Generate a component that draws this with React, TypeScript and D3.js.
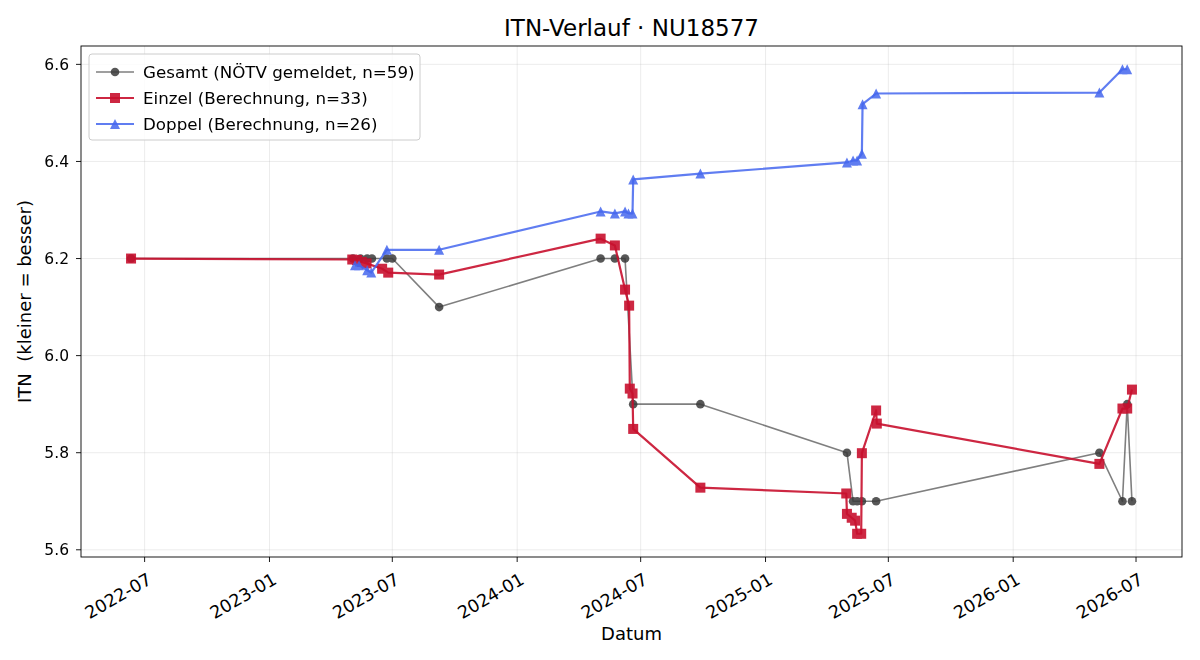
import * as d3 from "d3";

// ITN history per player: reported overall rating plus the computed singles/doubles values
const gesamtDates = [
  "2022-06-11", "2023-05-04", "2023-05-15", "2023-05-25", "2023-06-01", "2023-06-23",
  "2023-07-01", "2023-09-08", "2024-05-03", "2024-05-24", "2024-06-08", "2024-06-20",
  "2024-09-27", "2025-05-01", "2025-05-10", "2025-05-16", "2025-05-23", "2025-06-13",
  "2026-05-08", "2026-06-11", "2026-06-18", "2026-06-25",
];
const gesamtITN = [
  6.2, 6.2, 6.2, 6.2, 6.2, 6.2,
  6.2, 6.1, 6.2, 6.2, 6.2, 5.9,
  5.9, 5.8, 5.7, 5.7, 5.7, 5.7,
  5.8, 5.7, 5.9, 5.7,
];

const einzelDates = [
  "2022-06-11", "2023-05-03", "2023-05-10", "2023-05-17", "2023-05-24", "2023-06-16",
  "2023-06-25", "2023-09-08", "2024-05-03", "2024-05-24", "2024-06-08", "2024-06-14",
  "2024-06-15", "2024-06-19", "2024-06-20", "2024-09-27", "2025-04-30", "2025-05-01",
  "2025-05-08", "2025-05-13", "2025-05-16", "2025-05-22", "2025-05-23", "2025-06-13",
  "2025-06-14", "2026-05-08", "2026-06-11", "2026-06-18", "2026-06-25",
];
const einzelITN = [
  6.2, 6.198, 6.197, 6.193, 6.19, 6.179,
  6.171, 6.167, 6.241, 6.227, 6.136, 6.103,
  5.932, 5.922, 5.849, 5.728, 5.716, 5.674,
  5.666, 5.66, 5.633, 5.633, 5.799, 5.887,
  5.86, 5.777, 5.891, 5.891, 5.93,
];

const doppelDates = [
  "2023-05-07", "2023-05-13", "2023-05-25", "2023-05-31", "2023-06-23", "2023-09-08",
  "2024-05-03", "2024-05-24", "2024-06-08", "2024-06-13", "2024-06-19", "2024-06-20",
  "2024-09-27", "2025-05-01", "2025-05-10", "2025-05-16", "2025-05-23", "2025-05-24",
  "2025-06-13", "2026-05-08", "2026-06-11", "2026-06-18",
];
const doppelITN = [
  6.186, 6.186, 6.176, 6.171, 6.218, 6.218,
  6.297, 6.293, 6.297, 6.293, 6.293, 6.363,
  6.375, 6.398, 6.402, 6.402, 6.416, 6.518,
  6.54, 6.542, 6.59, 6.59,
];

const yTicks = [5.6, 5.8, 6.0, 6.2, 6.4, 6.6];
const xTicks = [
  "2022-07-01", "2023-01-01", "2023-07-01", "2024-01-01", "2024-07-01",
  "2025-01-01", "2025-07-01", "2026-01-01", "2026-07-01",
];

const W = 1200;
const H = 660;
const plot = { left: 81, right: 1182, top: 46, bottom: 557 };
const FONT = "DejaVu Sans, sans-serif";
const YTICK_FS = 15.5;
const XTICK_FS = 17.5;
const LABEL_FS = 18;
const LEGEND_FS = 16.7;
const TITLE_FS = 23;

const parse = d3.utcParse("%Y-%m-%d");
const fmtTick = d3.utcFormat("%Y-%m");

type Pt = { d: Date; v: number };
const zip = (ds: string[], vs: number[]): Pt[] => ds.map((s, i) => ({ d: parse(s)!, v: vs[i] }));

const gesamt = zip(gesamtDates, gesamtITN);
const einzel = zip(einzelDates, einzelITN);
const doppel = zip(doppelDates, doppelITN);
const all = [...gesamt, ...einzel, ...doppel];

// 5% padding like matplotlib's auto margins
const [dMin, dMax] = d3.extent(all, p => +p.d) as [number, number];
const dPad = (dMax - dMin) * 0.05;
const [vMin, vMax] = d3.extent(all, p => p.v) as [number, number];
const vPad = (vMax - vMin) * 0.05;

const x = d3.scaleUtc().domain([new Date(dMin - dPad), new Date(dMax + dPad)]).range([plot.left, plot.right]);
const y = d3.scaleLinear().domain([vMin - vPad, vMax + vPad]).range([plot.bottom, plot.top]);

const line = d3.line<Pt>().x(p => x(p.d)).y(p => y(p.v));

const GRAY = "#3a3a3a";
const RED = "#c8102e";
const BLUE = "#4466ee";

const tri = (s: number) => `M0,${-s} L${s},${s} L${-s},${s} Z`;

function Marker({ kind, color, cx, cy }: { kind: string; color: string; cx: number; cy: number }) {
  if (kind === "o") return <circle cx={cx} cy={cy} r={4.3} fill={color} />;
  if (kind === "s") return <rect x={cx - 5} y={cy - 5} width={10} height={10} fill={color} />;
  return <path d={tri(5)} transform={`translate(${cx},${cy})`} fill={color} />;
}

const series = [
  { data: gesamt, color: GRAY, kind: "o", width: 1.6, lineOp: 0.65, markOp: 0.85, label: "Gesamt (NÖTV gemeldet, n=59)" },
  { data: einzel, color: RED, kind: "s", width: 2.2, lineOp: 0.9, markOp: 0.9, label: "Einzel (Berechnung, n=33)" },
  { data: doppel, color: BLUE, kind: "^", width: 2.2, lineOp: 0.85, markOp: 0.85, label: "Doppel (Berechnung, n=26)" },
];

export default function App() {
  return (
    <svg width={W} height={H} style={{ position: "absolute", left: 0, top: 0, background: "#fff" }} fontFamily={FONT}>
      <rect width={W} height={H} fill="#fff" />

      {/* grid */}
      <g stroke="#b0b0b0" strokeOpacity={0.3} strokeWidth={0.8}>
        {xTicks.map(t => (
          <line key={t} x1={x(parse(t)!)} x2={x(parse(t)!)} y1={plot.top} y2={plot.bottom} />
        ))}
        {yTicks.map(t => (
          <line key={t} x1={plot.left} x2={plot.right} y1={y(t)} y2={y(t)} />
        ))}
      </g>

      {/* series */}
      {series.map(s => (
        <g key={s.label}>
          <path d={line(s.data)!} fill="none" stroke={s.color} strokeOpacity={s.lineOp} strokeWidth={s.width} strokeLinejoin="round" />
          <g opacity={s.markOp}>
            {s.data.map((p, i) => (
              <Marker key={i} kind={s.kind} color={s.color} cx={x(p.d)} cy={y(p.v)} />
            ))}
          </g>
        </g>
      ))}

      {/* frame */}
      <rect x={plot.left} y={plot.top} width={plot.right - plot.left} height={plot.bottom - plot.top} fill="none" stroke="#000" strokeWidth={0.9} />

      {/* y axis */}
      {yTicks.map(t => (
        <g key={t} transform={`translate(${plot.left},${y(t)})`}>
          <line x1={-5} x2={0} stroke="#000" strokeWidth={0.9} />
          <text x={-12} dy="0.35em" textAnchor="end" fontSize={YTICK_FS}>{t.toFixed(1)}</text>
        </g>
      ))}

      {/* x axis, labels tilted like autofmt_xdate */}
      {xTicks.map(t => {
        const px = x(parse(t)!);
        return (
          <g key={t}>
            <line x1={px} x2={px} y1={plot.bottom} y2={plot.bottom + 5} stroke="#000" strokeWidth={0.9} />
            <text transform={`translate(${px + 2},${plot.bottom + 15}) rotate(-30)`} textAnchor="end" dy="0.72em" fontSize={XTICK_FS}>
              {fmtTick(parse(t)!)}
            </text>
          </g>
        );
      })}

      <text x={(plot.left + plot.right) / 2} y={640} textAnchor="middle" fontSize={LABEL_FS}>Datum</text>
      <text transform={`translate(31,${(plot.top + plot.bottom) / 2}) rotate(-90)`} textAnchor="middle" fontSize={LABEL_FS} style={{ whiteSpace: "pre" }}>
        {"ITN  (kleiner = besser)"}
      </text>
      <text x={(plot.left + plot.right) / 2} y={36} textAnchor="middle" fontSize={TITLE_FS}>ITN-Verlauf · NU18577</text>

      {/* legend */}
      <g transform="translate(89,54)">
        <rect width={331} height={86} rx={3} fill="#fff" fillOpacity={0.8} stroke="#cccccc" strokeWidth={1} />
        {series.map((s, i) => {
          const ly = 18 + i * 26;
          return (
            <g key={s.label}>
              <line x1={7} x2={45} y1={ly} y2={ly} stroke={s.color} strokeOpacity={s.lineOp} strokeWidth={s.width} />
              <g opacity={s.markOp}>
                <Marker kind={s.kind} color={s.color} cx={26} cy={ly} />
              </g>
              <text x={54} y={ly} dy="0.35em" fontSize={LEGEND_FS}>{s.label}</text>
            </g>
          );
        })}
      </g>
    </svg>
  );
}
